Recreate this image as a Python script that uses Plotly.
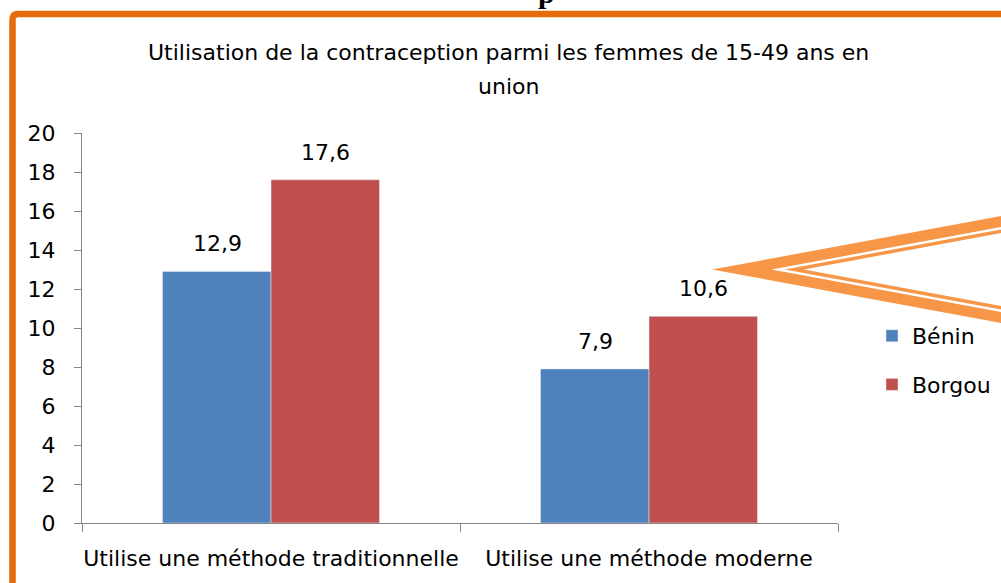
import plotly.graph_objects as go

# ---- data ----
categories = ["Utilise une méthode traditionnelle", "Utilise une méthode moderne"]
benin = [12.9, 7.9]
borgou = [17.6, 10.6]
series_names = ["Bénin", "Borgou"]
title_line1 = "Utilisation de la contraception parmi les femmes de 15-49 ans en"
title_line2 = "union"

BLUE = "#4F81BD"
RED = "#C0504D"
FRAME = "#E46C0A"
CALLOUT = "#F79646"
AXIS = "#868686"
FONT = "DejaVu Sans"
FS = 22

W, H = 1001, 583
ML, MR, MT, MB = 82, 163, 133, 60
PW = W - ML - MR
PH = H - MT - MB


def X(px):
    return (px - ML) / PW


def Y(py):
    return (H - MB - py) / PH


fig = go.Figure()
fig.add_trace(go.Bar(name=series_names[0], x=categories, y=benin, marker_color=BLUE,
                     legendgroup="a"))
fig.add_trace(go.Bar(name=series_names[1], x=categories, y=borgou, marker_color=RED,
                     legendgroup="b"))

annotations = []
# data labels
for vals, shift in ((benin, -54), (borgou, 54)):
    for c, v in zip(categories, vals):
        annotations.append(dict(x=c, y=v, xref="x", yref="y", text=f"{v:.1f}".replace(".", ","),
                                showarrow=False, xshift=shift, yshift=13, yanchor="bottom",
                                font=dict(family=FONT, size=FS, color="#000000")))
# title (two lines)
annotations.append(dict(x=X(509), y=Y(52), xref="paper", yref="paper", text=title_line1,
                        showarrow=False, xanchor="center", yanchor="middle",
                        font=dict(family=FONT, size=FS, color="#000000")))
annotations.append(dict(x=X(509), y=Y(86), xref="paper", yref="paper", text=title_line2,
                        showarrow=False, xanchor="center", yanchor="middle",
                        font=dict(family=FONT, size=FS, color="#000000")))
# cut-off heading glyph at the top
annotations.append(dict(x=X(546), y=Y(11), xref="paper", yref="paper", text="<b>p</b>",
                        showarrow=False, xanchor="center", yanchor="bottom",
                        font=dict(family="Liberation Serif", size=30, color="#000000")))


def poly(points):
    return "M " + " L ".join(f"{X(a):.5f},{Y(b):.5f}" for a, b in points) + " Z"


slope = 0.185
cy = 269.5
tip = 712
xr = 1012


def vband(o1, o2):
    # V-shaped band between vertical offsets o1 and o2 from the outer edge
    t1 = tip + o1 / slope
    t2 = tip + o2 / slope
    d = slope * (xr - tip)
    return poly([(t1, cy), (xr, cy - d + o1), (xr, cy - d + o2), (t2, cy),
                 (xr, cy + d - o2), (xr, cy + d - o1)])


shapes = [
    # orange frame
    dict(type="path", xref="paper", yref="paper",
         path=f"M {X(12.5)},{Y(600)} L {X(12.5)},{Y(20)} Q {X(12.5)},{Y(14)} {X(18)},{Y(14)} L {X(1020)},{Y(14)}",
         line=dict(color=FRAME, width=6.5), fillcolor="rgba(0,0,0,0)", layer="above"),
    # callout double line
    dict(type="path", xref="paper", yref="paper", path=vband(0, 17),
         fillcolor=CALLOUT, line=dict(width=0), layer="above"),
    dict(type="path", xref="paper", yref="paper", path=vband(11, 13.5),
         fillcolor="#FFFFFF", line=dict(width=0), layer="above"),
]

fig.update_layout(
    width=W, height=H,
    margin=dict(l=ML, r=MR, t=MT, b=MB, autoexpand=False),
    paper_bgcolor="#FFFFFF", plot_bgcolor="#FFFFFF",
    barmode="group", bargap=0.426, bargroupgap=0,
    separators=", ",
    font=dict(family=FONT, size=FS, color="#000000"),
    showlegend=True,
    legend=dict(x=X(872), y=Y(315), xanchor="left", yanchor="top", xref="paper", yref="paper",
                font=dict(family=FONT, size=FS, color="#000000"), tracegroupgap=17,
                itemwidth=30, bgcolor="rgba(0,0,0,0)"),
    annotations=annotations,
    shapes=shapes,
    xaxis=dict(showline=True, linecolor=AXIS, linewidth=1, ticks="outside", tickson="boundaries",
               ticklen=8, tickcolor=AXIS, showgrid=False, tickfont=dict(family=FONT, size=FS),
               tickangle=0, ticklabelstandoff=16),
    yaxis=dict(range=[0, 20], dtick=2, showline=True, linecolor=AXIS, linewidth=1, ticks="outside",
               ticklen=7, tickcolor=AXIS, showgrid=False, zeroline=False,
               tickfont=dict(family=FONT, size=FS), ticklabelstandoff=14),
)

fig.write_html("out.html", config={"displayModeBar": False},
               post_script="document.body.style.margin='0px';document.body.style.overflow='hidden';")
